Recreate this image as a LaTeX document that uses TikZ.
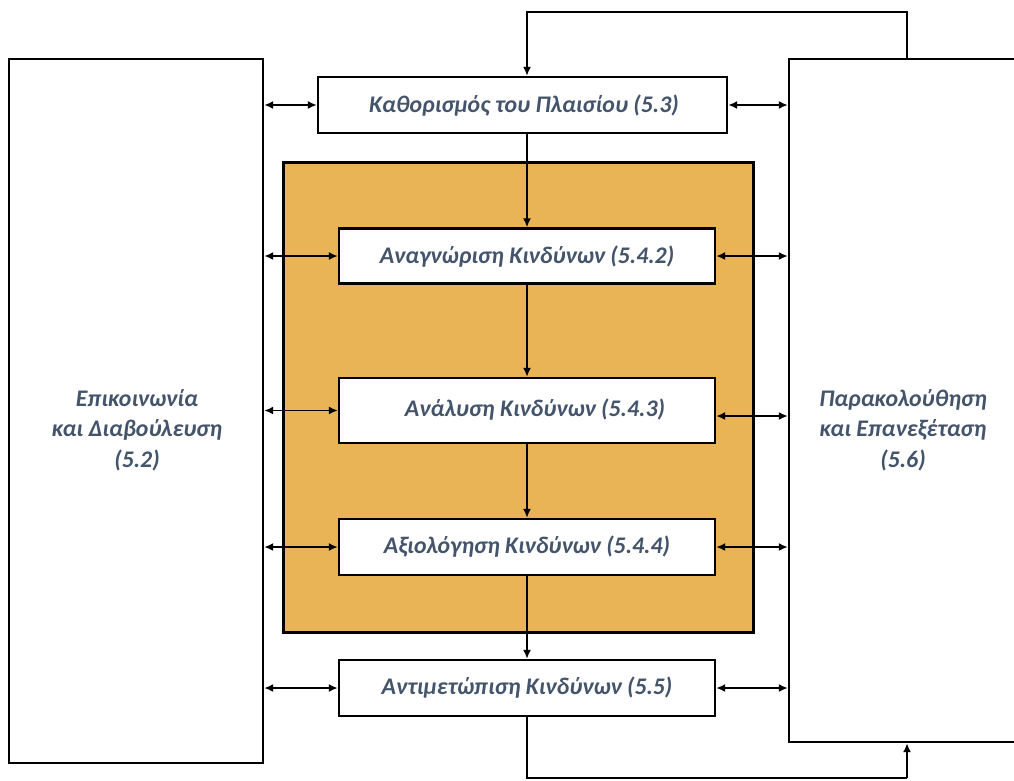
\documentclass[tikz,border=0pt]{standalone}
\usepackage{fontspec}
\setmainfont{Carlito}
\usetikzlibrary{arrows.meta,calc}
\definecolor{txt}{HTML}{44546A}
\definecolor{orng}{RGB}{232,180,85}
\tikzset{
  box/.style={draw=black, line width=2.4pt, fill=white, inner sep=0pt},
  lbl/.style={text=txt, font=\fontsize{23.8}{30.5}\selectfont\bfseries\itshape, align=center, inner sep=0pt},
  arr/.style={line width=1.7pt, -{Latex[length=9pt,width=8pt]}},
  darr/.style={line width=1.7pt, {Latex[length=9pt,width=8pt]}-{Latex[length=9pt,width=8pt]}},
  ln/.style={line width=1.7pt}
}
\begin{document}
\begin{tikzpicture}[x=1pt,y=-1pt]
\clip (0,0) rectangle (1014,780);
\fill[white] (0,0) rectangle (1014,780);
% side boxes
\node[box, minimum width=254pt, minimum height=704pt] (L) at (136,411) {};
\node[box, minimum width=250pt, minimum height=683pt] (R) at (914,400.5) {};
\node[lbl] (Lt) at (137,430) {Επικοινωνία\\και Διαβούλευση\\(5.2)};
\node[lbl] (Rt) at (903,430) {Παρακολούθηση\\και Επανεξέταση\\(5.6)};
% orange frame
\node[draw=black, line width=3pt, fill=orng, minimum width=470pt, minimum height=470pt, inner sep=0pt] (O) at (518,397) {};
% process boxes
\node[box, minimum width=409pt, minimum height=56pt] (T) at (522.5,105) {};
\node[lbl] at (524,106) {Καθορισμός του Πλαισίου (5.3)};
\node[box, minimum width=376pt, minimum height=55pt] (A) at (527,256) {};
\node[lbl] at (527,257) {Αναγνώριση Κινδύνων (5.4.2)};
\node[box, minimum width=376pt, minimum height=65pt] (B) at (527,410.5) {};
\node[lbl] at (535,410) {Ανάλυση Κινδύνων (5.4.3)};
\node[box, minimum width=376pt, minimum height=56pt] (C) at (527,547) {};
\node[lbl] at (527,547) {Αξιολόγηση Κινδύνων (5.4.4)};
\node[box, minimum width=376pt, minimum height=56pt] (D) at (527,688) {};
\node[lbl] at (527,688) {Αντιμετώπιση Κινδύνων (5.5)};
% loops
\coordinate (topY) at (0,12);
\coordinate (botY) at (0,778);
\coordinate (rx) at (907,0);
\draw[arr] (R.north -| rx) -- (rx |- topY) -- (A |- topY) -- (T.north -| A);
\draw[ln] (D.south) -- (D |- botY) -- (rx |- botY);
\draw[arr] (rx |- botY) -- (R.south -| rx);
% vertical chain
\draw[arr] (T.south -| A) -- (A.north);
\draw[arr] (A.south) -- (B.north);
\draw[arr] (B.south) -- (C.north);
\draw[arr] (C.south) -- (D.north);
% horizontal double arrows
\draw[darr] (L.east |- T.west) -- (T.west);
\draw[darr] (T.east) -- (R.west |- T.east);
\draw[darr] (L.east |- A.west) -- (A.west);
\draw[darr] (A.east) -- (R.west |- A.east);
\draw[darr] (L.east |- B.west) -- (B.west);
\draw[darr] ([yshift=-5.5pt]B.east) -- ([yshift=-5.5pt]R.west |- B.east);
\draw[darr] (L.east |- C.west) -- (C.west);
\draw[darr] (C.east) -- (R.west |- C.east);
\draw[darr] (L.east |- D.west) -- (D.west);
\draw[darr] (D.east) -- (R.west |- D.east);
\end{tikzpicture}
\end{document}
